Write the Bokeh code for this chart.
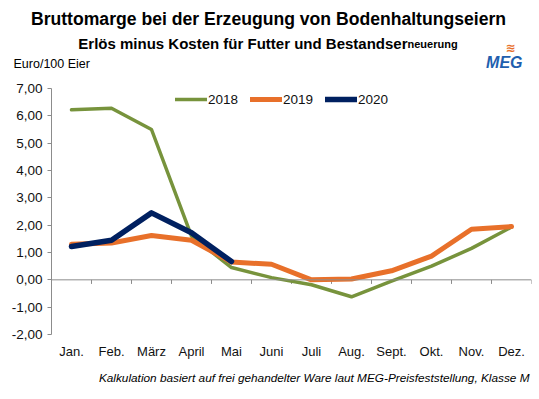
from bokeh.plotting import figure
from bokeh.models import Range1d, FixedTicker, Span, Label, Legend, LegendItem
from bokeh.embed import file_html
from bokeh.resources import INLINE

months = ["Jan.", "Feb.", "März", "April", "Mai", "Juni", "Juli", "Aug.", "Sept.", "Okt.", "Nov.", "Dez."]
y2018 = [6.22, 6.28, 5.50, 1.60, 0.45, 0.08, -0.18, -0.62, -0.05, 0.50, 1.15, 1.93]
y2019 = [1.30, 1.35, 1.62, 1.45, 0.65, 0.57, 0.00, 0.03, 0.33, 0.87, 1.85, 1.95]
y2020 = [1.22, 1.45, 2.45, 1.72, 0.67]
y_ticks = [-2, -1, 0, 1, 2, 3, 4, 5, 6, 7]

FONT = "Liberation Sans"
GREEN = "#77933C"
ORANGE = "#E8702A"
NAVY = "#002060"
AXIS = "#8C8C8C"

x_centers = [i + 0.5 for i in range(len(months))]

W, H = 539, 399
ML, MR, MT, MB = 51, 8, 88, 65
p = figure(width=W, height=H, output_backend="svg", toolbar_location=None,
           x_range=Range1d(0, len(months)), y_range=Range1d(min(y_ticks), max(y_ticks)),
           min_border_left=ML, min_border_right=MR, min_border_top=MT, min_border_bottom=MB)
p.outline_line_color = None
p.xgrid.visible = False
p.ygrid.visible = False

# page pixel -> data coordinates (for texts placed around the frame)
fw, fh = W - ML - MR, H - MT - MB
def dx(px):
    return (px - ML) / fw * len(months)
def dy(py):
    return max(y_ticks) - (py - MT) / fh * (max(y_ticks) - min(y_ticks))

# y axis
ya = p.yaxis[0]
ya.ticker = FixedTicker(ticks=y_ticks)
ya.major_label_overrides = {t: f"{t:.2f}".replace(".", ",") for t in y_ticks}
ya.axis_line_color = AXIS
ya.major_tick_line_color = AXIS
ya.major_tick_out = 4
ya.major_tick_in = 0
ya.minor_tick_line_color = None
ya.major_label_standoff = 5
ya.major_label_text_font = FONT
ya.major_label_text_font_size = "13.5px"
ya.major_label_text_color = "#111111"

# x axis: labels only, the zero line is drawn separately
xa = p.xaxis[0]
xa.ticker = FixedTicker(ticks=x_centers)
xa.major_label_overrides = {c: m for c, m in zip(x_centers, months)}
xa.axis_line_color = None
xa.major_tick_line_color = None
xa.major_tick_out = 0
xa.major_tick_in = 0
xa.minor_tick_line_color = None
xa.major_label_standoff = 9
xa.major_label_text_font = FONT
xa.major_label_text_font_size = "13px"
xa.major_label_text_color = "#111111"

p.add_layout(Span(location=0, dimension="width", line_color=AXIS, line_width=1))
bounds = list(range(1, len(months) + 1))
p.segment(x0=bounds, y0=[0] * len(bounds), x1=bounds, y1=[-0.15] * len(bounds),
          line_color=AXIS, line_width=1)

r18 = p.line(x_centers, y2018, line_color=GREEN, line_width=3.5, line_cap="round", line_join="round")
r19 = p.line(x_centers, y2019, line_color=ORANGE, line_width=5, line_cap="round", line_join="round")
r20 = p.line(x_centers[:len(y2020)], y2020, line_color=NAVY, line_width=5.5, line_cap="round", line_join="round")

legend = Legend(items=[LegendItem(label="2018", renderers=[r18]),
                       LegendItem(label="2019", renderers=[r19]),
                       LegendItem(label="2020", renderers=[r20])],
                orientation="horizontal", location=(124, 227),
                glyph_width=32, glyph_height=16, label_height=16, label_standoff=1,
                spacing=12, padding=0, margin=0,
                border_line_color=None, background_fill_alpha=0,
                label_text_font=FONT, label_text_font_size="13.5px", label_text_color="#111111")
p.add_layout(legend, "center")

def lab(place, px, py, text, size, style="normal", align="left", baseline="middle",
        color="#000000", font=FONT):
    p.add_layout(Label(x=dx(px), y=dy(py), text=text,
                       text_font=font, text_font_size=size, text_font_style=style,
                       text_align=align, text_baseline=baseline, text_color=color), place)

lab("above", 13, 63, "Euro/100 Eier", "12.5px")
lab("above", 522, 62, "MEG", "16px", "bold italic", "right", color="#1F5FAE")
lab("above", 407, 43, "neuerung", "11px", "bold", "left", "alphabetic")
lab("above", 407, 43, "Erlös minus Kosten für Futter und Bestandser", "15px", "bold", "right", "alphabetic")
lab("above", 268, 18, "Bruttomarge bei der Erzeugung von Bodenhaltungseiern", "17.6px", "bold", "center")
lab("below", 510, 47, "≋", "12px", "bold", "center", color=ORANGE, font="DejaVu Sans")
lab("below", 529, 377, "Kalkulation basiert auf frei gehandelter Ware laut MEG-Preisfeststellung, Klasse M",
    "11.8px", "italic", "right")

open("out.html", "w").write(file_html(p, INLINE))
